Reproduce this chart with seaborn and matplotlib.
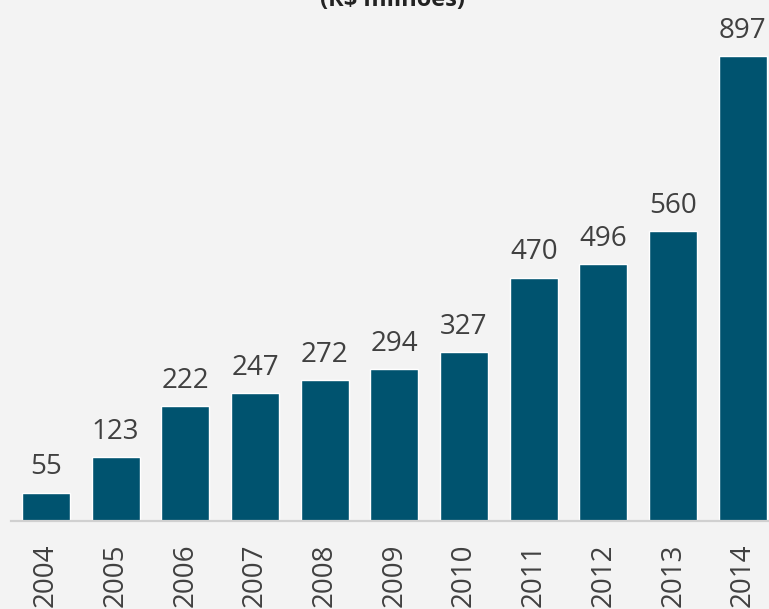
import numpy as np
import pandas as pd
import matplotlib
matplotlib.use("Agg")
import matplotlib.pyplot as plt
import seaborn as sns

years = ['2004', '2005', '2006', '2007', '2008', '2009', '2010', '2011', '2012', '2013', '2014']
values = [55, 123, 222, 247, 272, 294, 327, 470, 496, 560, 897]
title = '(R$ milhões)'

bg = '#f3f3f3'
bar_color = '#00536f'
text_color = '#404040'

sns.set_style('white')
plt.rcParams['font.family'] = ['Open Sans', 'DejaVu Sans']

W, H = 769, 609
fig = plt.figure(figsize=(W / 100, H / 100), dpi=100, facecolor=bg)

# axes run past the right and top edges, like the cropped original
left_px, base_px = 11.0, 521.0
unit_x = 69.7
unit_y = 0.518
ymax = 1000
ax = fig.add_axes([left_px / W, (H - base_px) / H,
                   11 * unit_x / W, ymax * unit_y / H])
ax.set_facecolor(bg)

df = pd.DataFrame({'ano': years, 'valor': values})
sns.barplot(data=df, x='ano', y='valor', color=bar_color, saturation=1,
            width=0.69, ax=ax)

ax.set_xlim(-0.5, 10.5)
ax.set_ylim(0, ymax)
ax.bar_label(ax.containers[0], labels=[str(v) for v in values],
             padding=8, fontsize=20, color=text_color)

for s in ['top', 'right', 'left']:
    ax.spines[s].set_visible(False)
ax.spines['bottom'].set_color('#d0d0d0')
ax.spines['bottom'].set_linewidth(1.6)

ax.set_yticks([])
ax.set_xlabel('')
ax.set_ylabel('')
ax.tick_params(axis='x', length=0, pad=16, labelsize=20, labelcolor=text_color)
plt.setp(ax.get_xticklabels(), rotation=90, va='top', ha='center')

fig.text(393 / W, (H - 6) / H, title, ha='center', va='baseline',
         fontsize=17, fontweight='bold', color='#222222')

fig.savefig('out.png', dpi=100, facecolor=bg)
